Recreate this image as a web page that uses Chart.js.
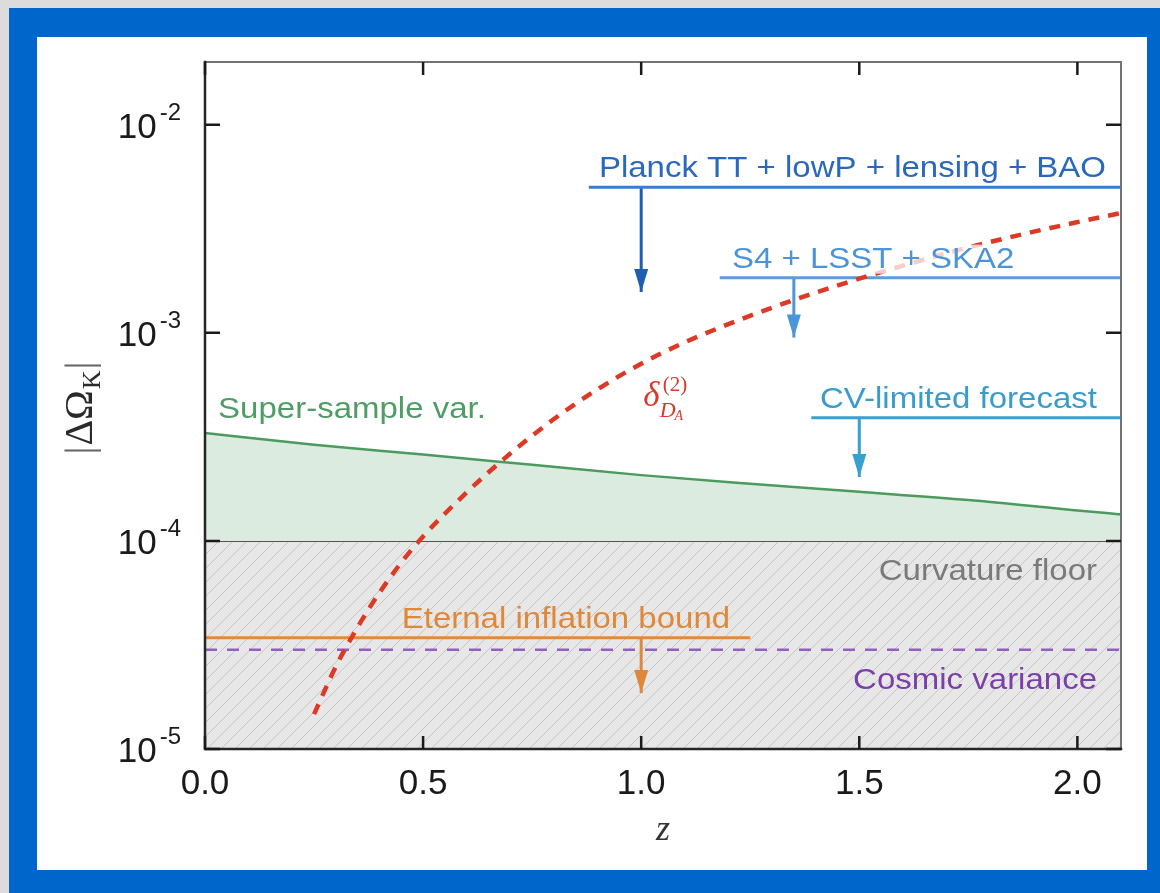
<!DOCTYPE html>
<html>
<head>
<meta charset="utf-8">
<script src="https://cdn.jsdelivr.net/npm/chart.js@4.4.0/dist/chart.umd.min.js"></script>
<style>
    html, body { margin: 0; padding: 0; width: 1160px; height: 893px; overflow: hidden; background: #dcdcdc; }
    #frame { position: absolute; left: 9px; top: 8px; width: 1151px; height: 885px; background: #0066cc; }
    #panel { position: absolute; left: 28px; top: 29px; width: 1110px; height: 833px; background: #fff; }
</style>
</head>
<body>
<div id="frame">
    <div id="panel"><canvas id="curvatureChart" width="1110" height="833"></canvas></div>
</div>
<script>
// axis ticks
const zTicks = [0, 0.5, 1.0, 1.5, 2.0];
const zTickText = ['0.0', '0.5', '1.0', '1.5', '2.0'];
const decadeTicks = [1e-5, 1e-4, 1e-3, 1e-2];
const decadeExp = ['-5', '-4', '-3', '-2'];

// super-sample variance band (upper edge)
const zSSV = [0, 0.25, 0.5, 0.75, 1.0, 1.25, 1.5, 1.75, 2.0, 2.1];
const ssv = [3.3e-4, 2.9e-4, 2.6e-4, 2.32e-4, 2.07e-4, 1.88e-4, 1.72e-4, 1.57e-4, 1.40e-4, 1.34e-4];

// second-order angular diameter distance term
const zDelta = [0.25, 0.3, 0.35, 0.4, 0.45, 0.5, 0.6, 0.7, 0.8, 0.9, 1.0, 1.1, 1.2, 1.3, 1.4, 1.5, 1.6, 1.7, 1.8, 1.9, 2.0, 2.1];
const deltaDA = [1.47e-5, 2.49e-5, 3.85e-5, 5.64e-5, 7.87e-5, 1.05e-4, 1.71e-4, 2.63e-4, 3.85e-4, 5.35e-4, 7.1e-4,
    9.0e-4, 1.1e-3, 1.32e-3, 1.56e-3, 1.82e-3, 2.1e-3, 2.41e-3, 2.73e-3, 3.06e-3, 3.40e-3, 3.76e-3];

const floorLevel = 1e-4;
const cosmicVariance = 3e-5;

// upper bounds: level of the bar, z range it spans, where the arrow sits and where it points
const boundNames = ['Planck TT + lowP + lensing + BAO', 'S4 + LSST + SKA2', 'CV-limited forecast', 'Eternal inflation bound'];
const boundLevel = [5.0e-3, 1.84e-3, 3.9e-4, 3.42e-5];
const boundStart = [0.88, 1.18, 1.39, 0.0];
const boundEnd = [2.1, 2.1, 2.1, 1.25];
const arrowZ = [1.0, 1.35, 1.5, 1.0];
const arrowTip = [1.57e-3, 9.5e-4, 2.03e-4, 1.86e-5];
const boundLabelZ = [0.903, 1.208, 1.41, 0.451];

const lineColors = ['#3d7dd0', '#5a9ddc', '#3aa0d0', '#e08a3c'];
const arrowColors = ['#1f5db4', '#4c95d8', '#36a0cf', '#e0883a'];
const textColors = ['#2a68be', '#4d94d6', '#3a9ccb', '#e0883a'];

const SANS = '"Liberation Sans", Arial, Helvetica, sans-serif';
const SERIF = '"Liberation Serif", "Times New Roman", serif';
const LABEL_STRETCH = 1.1;

function hatchPattern() {
    const c = document.createElement('canvas');
    c.width = 14; c.height = 14;
    const g = c.getContext('2d');
    g.fillStyle = '#e7e7e7';
    g.fillRect(0, 0, 14, 14);
    g.strokeStyle = '#c6c6c6';
    g.lineWidth = 1;
    g.beginPath();
    g.moveTo(0, 14); g.lineTo(14, 0);
    g.moveTo(-2, 2); g.lineTo(2, -2);
    g.moveTo(12, 16); g.lineTo(16, 12);
    g.stroke();
    return g.createPattern(c, 'repeat');
}

// annotation text is a wide sans, so stretch Liberation Sans a little
function drawLabel(ctx, text, px, py, color, align, box) {
    ctx.save();
    ctx.font = '30px ' + SANS;
    ctx.textAlign = align;
    ctx.textBaseline = 'alphabetic';
    const w = ctx.measureText(text).width * LABEL_STRETCH;
    if (box) {
        ctx.fillStyle = 'rgba(255,255,255,0.75)';
        ctx.fillRect(align === 'left' ? px - 2 : px - w - 2, py - 23, w + 4, 29);
    }
    ctx.translate(px, py);
    ctx.scale(LABEL_STRETCH, 1);
    ctx.fillStyle = color;
    ctx.fillText(text, 0, 0);
    ctx.restore();
}

const decorations = {
    id: 'decorations',
    afterDatasetsDraw(chart) {
        const { ctx, scales: { x, y } } = chart;
        ctx.save();

        // arrow heads
        arrowZ.forEach((z, i) => {
            const px = x.getPixelForValue(z);
            const py = y.getPixelForValue(arrowTip[i]);
            ctx.fillStyle = arrowColors[i];
            ctx.beginPath();
            ctx.moveTo(px, py);
            ctx.lineTo(px - 7, py - 23);
            ctx.lineTo(px + 7, py - 23);
            ctx.closePath();
            ctx.fill();
        });

        // bound labels
        boundNames.forEach((name, i) => {
            drawLabel(ctx, name, x.getPixelForValue(boundLabelZ[i]), y.getPixelForValue(boundLevel[i]) - 10,
                textColors[i], 'left', i === 1);
        });

        drawLabel(ctx, 'Super-sample var.', x.getPixelForValue(0.03), y.getPixelForValue(3.9e-4), '#4f9c66', 'left', false);
        drawLabel(ctx, 'Curvature floor', x.getPixelForValue(2.045), y.getPixelForValue(6.5e-5), '#7a7a7a', 'right', false);
        drawLabel(ctx, 'Cosmic variance', x.getPixelForValue(2.045), y.getPixelForValue(1.95e-5), '#7a3fa8', 'right', false);

        // delta_{D_A}^{(2)}
        const dx = x.getPixelForValue(1.005);
        const dy = y.getPixelForValue(4.45e-4);
        ctx.fillStyle = '#d8392a';
        ctx.textAlign = 'left';
        ctx.font = 'italic 35px ' + SERIF;
        ctx.fillText('δ', dx, dy);
        const dw = ctx.measureText('δ').width;
        ctx.font = '21px ' + SERIF;
        ctx.fillText('(2)', dx + dw + 3, dy - 15);
        ctx.font = 'italic 22px ' + SERIF;
        ctx.fillText('D', dx + dw, dy + 11);
        const Dw = ctx.measureText('D').width;
        ctx.font = 'italic 14px ' + SERIF;
        ctx.fillText('A', dx + dw + Dw - 1, dy + 14);

        ctx.restore();
    },
    afterDraw(chart) {
        const { ctx, chartArea: a, scales: { x, y } } = chart;
        ctx.save();

        // frame
        ctx.lineCap = 'square';
        ctx.strokeStyle = '#737373';
        ctx.lineWidth = 2;
        ctx.beginPath();
        ctx.moveTo(a.left, a.top); ctx.lineTo(a.right, a.top); ctx.lineTo(a.right, a.bottom);
        ctx.stroke();
        ctx.strokeStyle = '#262626';
        ctx.lineWidth = 2.5;
        ctx.beginPath();
        ctx.moveTo(a.left, a.top); ctx.lineTo(a.left, a.bottom); ctx.lineTo(a.right, a.bottom);
        ctx.stroke();

        // inward ticks
        ctx.lineCap = 'butt';
        ctx.strokeStyle = '#1a1a1a';
        ctx.lineWidth = 2.5;
        ctx.beginPath();
        x.ticks.forEach(t => {
            const px = x.getPixelForValue(t.value);
            ctx.moveTo(px, a.bottom); ctx.lineTo(px, a.bottom - 13);
            ctx.moveTo(px, a.top); ctx.lineTo(px, a.top + 13);
        });
        y.ticks.forEach(t => {
            const py = y.getPixelForValue(t.value);
            ctx.moveTo(a.left, py); ctx.lineTo(a.left + 15, py);
            ctx.moveTo(a.right, py); ctx.lineTo(a.right - 15, py);
        });
        ctx.stroke();

        // tick labels
        ctx.fillStyle = '#1a1a1a';
        ctx.textBaseline = 'alphabetic';
        ctx.font = '35px ' + SANS;
        ctx.textAlign = 'center';
        x.ticks.forEach((t, i) => {
            ctx.fillText(zTickText[i], x.getPixelForValue(t.value), a.bottom + 45);
        });
        y.ticks.forEach((t, i) => {
            const py = y.getPixelForValue(t.value);
            ctx.font = '24px ' + SANS;
            ctx.textAlign = 'right';
            const ew = ctx.measureText(decadeExp[i]).width;
            ctx.fillText(decadeExp[i], a.left - 24, py - 5);
            ctx.font = '35px ' + SANS;
            ctx.fillText('10', a.left - 27 - ew, py + 13);
        });

        // x title
        ctx.font = 'italic 36px ' + SERIF;
        ctx.textAlign = 'center';
        ctx.fillStyle = '#333';
        ctx.fillText('z', (a.left + a.right) / 2, a.bottom + 91);

        // y title |ΔΩ_K|, rotated
        ctx.translate(55, (a.top + a.bottom) / 2 + 2);
        ctx.rotate(-Math.PI / 2);
        ctx.textAlign = 'left';
        const pieces = [
            ['|', '40px ' + SERIF, 0, '#666'],
            ['ΔΩ', '40px ' + SERIF, 0, '#2a2a2a'],
            ['K', '26px ' + SERIF, 8, '#2a2a2a'],
            ['|', '40px ' + SERIF, 0, '#666']
        ];
        let total = 0;
        pieces.forEach(p => { ctx.font = p[1]; total += ctx.measureText(p[0]).width + 1; });
        let cx = -total / 2;
        pieces.forEach(p => {
            ctx.font = p[1];
            ctx.fillStyle = p[3];
            ctx.fillText(p[0], cx, p[2]);
            cx += ctx.measureText(p[0]).width + 1;
        });

        ctx.restore();
    }
};

const pts = (xs, ys) => xs.map((v, i) => ({ x: v, y: ys[i] }));

const datasets = [
    {
        label: 'delta_DA',
        data: pts(zDelta, deltaDA),
        borderColor: '#dc3a26',
        borderWidth: 4.5,
        borderDash: [11, 9],
        cubicInterpolationMode: 'monotone',
        order: 0
    }
];

boundNames.forEach((name, i) => {
    datasets.push({
        label: name,
        data: [{ x: boundStart[i], y: boundLevel[i] }, { x: boundEnd[i], y: boundLevel[i] }],
        borderColor: lineColors[i],
        borderWidth: 3,
        order: 1
    });
    datasets.push({
        label: name + ' arrow',
        data: [{ x: arrowZ[i], y: boundLevel[i] }, { x: arrowZ[i], y: arrowTip[i] }],
        borderColor: arrowColors[i],
        borderWidth: 3,
        order: 1
    });
});

datasets.push(
    {
        label: 'Cosmic variance',
        data: [{ x: 0, y: cosmicVariance }, { x: 2.1, y: cosmicVariance }],
        borderColor: '#9460c0',
        borderWidth: 2.5,
        borderDash: [12, 10],
        order: 2
    },
    {
        label: 'Super-sample var.',
        data: pts(zSSV, ssv),
        borderColor: '#4b9b5e',
        borderWidth: 2.5,
        backgroundColor: '#dcebdf',
        fill: { value: floorLevel },
        cubicInterpolationMode: 'monotone',
        order: 3
    },
    {
        label: 'Curvature floor',
        data: [{ x: 0, y: floorLevel }, { x: 2.1, y: floorLevel }],
        borderColor: '#555555',
        borderWidth: 2,
        backgroundColor: hatchPattern(),
        fill: 'start',
        order: 4
    }
);

new Chart(document.getElementById('curvatureChart'), {
    type: 'line',
    data: { datasets },
    options: {
        responsive: false,
        animation: false,
        events: [],
        layout: { padding: { left: 0, top: 25, right: 26, bottom: 0 } },
        elements: { point: { radius: 0 }, line: { tension: 0 } },
        plugins: { legend: { display: false }, tooltip: { enabled: false } },
        scales: {
            x: {
                type: 'linear',
                min: 0,
                max: 2.1,
                afterBuildTicks: s => { s.ticks = zTicks.map(v => ({ value: v })); },
                afterFit: s => { s.height = 121; },
                ticks: { display: false },
                grid: { display: false },
                border: { display: false }
            },
            y: {
                type: 'logarithmic',
                min: 1e-5,
                max: 0.02,
                afterBuildTicks: s => { s.ticks = decadeTicks.map(v => ({ value: v })); },
                afterFit: s => { s.width = 168; },
                ticks: { display: false },
                grid: { display: false },
                border: { display: false }
            }
        }
    },
    plugins: [decorations]
});
</script>
</body>
</html>
